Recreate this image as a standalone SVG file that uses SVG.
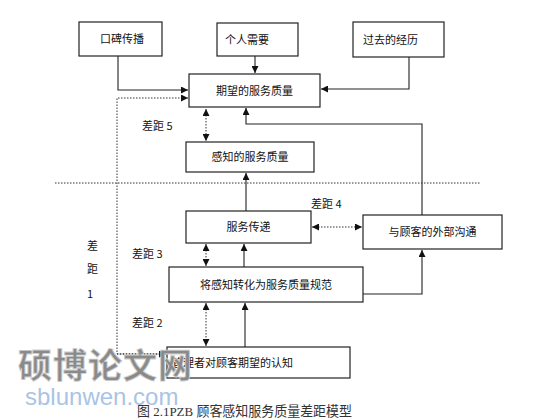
<svg xmlns="http://www.w3.org/2000/svg" width="556" height="418" viewBox="0 0 556 418">
<style>
.box{fill:#fff;stroke:#222;stroke-width:1.2}
.t{font-family:"Noto Sans CJK SC","Liberation Sans",sans-serif;font-size:11px;fill:#111}
.s{fill:none;stroke:#222;stroke-width:1.1}
.d{fill:none;stroke:#333;stroke-width:1;stroke-dasharray:1.5 1.5}
</style>
<defs>
<marker id="a" viewBox="0 0 10 10" refX="10" refY="5" markerWidth="7" markerHeight="7" orient="auto-start-reverse" markerUnits="userSpaceOnUse"><path d="M0,0 L10,5 L0,10 z" fill="#111"/></marker>
</defs>
<rect width="556" height="418" fill="#fff"/>
<g id="connectors">
<path class="s" d="M118,56 V90 H188" marker-end="url(#a)"/>
<path class="s" d="M255,56 V73" marker-end="url(#a)"/>
<path class="s" d="M409,57 V89 H321" marker-end="url(#a)"/>
<path class="s" d="M422,215 V124 H246 V108" marker-end="url(#a)"/>
<path class="d" d="M166,354 H117 V98 H188" marker-end="url(#a)"/>
<path class="d" d="M117,354 H166" marker-end="url(#a)"/>
<path class="d" d="M206,109 V141" marker-start="url(#a)" marker-end="url(#a)"/>
<path class="s" d="M246,211 V173" marker-end="url(#a)"/>
<path class="d" d="M312,227 H362" marker-start="url(#a)" marker-end="url(#a)"/>
<path class="d" d="M206,244 V266" marker-start="url(#a)" marker-end="url(#a)"/>
<path class="s" d="M244,267 V244" marker-end="url(#a)"/>
<path class="s" d="M363,294 H422 V250" marker-end="url(#a)"/>
<path class="d" d="M206,303 V346" marker-start="url(#a)" marker-end="url(#a)"/>
<path class="s" d="M245,347 V303" marker-end="url(#a)"/>
<path class="d" d="M55,183 H480"/>
</g>
<g id="n1"><rect class="box" x="79" y="22" width="83" height="34"/><text class="t" x="100" y="43">口碑传播</text></g>
<g id="n2"><rect class="box" x="217" y="23" width="81" height="33"/><text class="t" x="225" y="44">个人需要</text></g>
<g id="n3"><rect class="box" x="353" y="22" width="91" height="35"/><text class="t" x="363" y="44">过去的经历</text></g>
<g id="n4"><rect class="box" x="189" y="74" width="131" height="33"/><text class="t" x="254.5" y="95" text-anchor="middle">期望的服务质量</text></g>
<g id="n5"><rect class="box" x="186" y="142" width="128" height="30"/><text class="t" x="250" y="161" text-anchor="middle">感知的服务质量</text></g>
<g id="n6"><rect class="box" x="186" y="211" width="125" height="32"/><text class="t" x="248.5" y="231" text-anchor="middle">服务传递</text></g>
<g id="n7"><rect class="box" x="363" y="215" width="139" height="34"/><text class="t" x="432.5" y="236" text-anchor="middle">与顾客的外部沟通</text></g>
<g id="n8"><rect class="box" x="169" y="267" width="194" height="35"/><text class="t" x="266" y="289" text-anchor="middle">将感知转化为服务质量规范</text></g>
<g id="n9"><rect class="box" x="167" y="347" width="183" height="31"/><text class="t" x="172" y="367">管理者对顾客期望的认知</text></g>
<g id="labels" class="t">
<text x="142" y="130">差距 5</text>
<text x="311" y="208">差距 4</text>
<text x="132" y="258">差距 3</text>
<text x="132" y="327">差距 2</text>
<text x="87" y="250">差</text>
<text x="87" y="273">距</text>
<text x="87" y="298">1</text>
</g>
<g id="watermark" font-family="Noto Sans CJK SC,sans-serif">
<text x="18" y="378" font-size="34" font-weight="bold" fill="#8a8a8a" stroke="#d0d0d0" stroke-width="0.8" letter-spacing="1">硕博论文网</text>
<text x="25" y="405" font-family="Liberation Sans,sans-serif" font-size="24" fill="#a9c4e4">sblunwen.com</text>
</g>
<text x="137" y="416" font-family="Liberation Serif,Noto Sans CJK SC,serif" font-size="13.5" fill="#333" textLength="215" lengthAdjust="spacingAndGlyphs">图 2.1PZB 顾客感知服务质量差距模型</text>
</svg>
